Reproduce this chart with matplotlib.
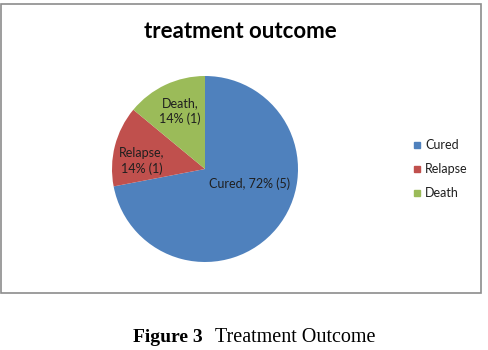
import matplotlib.pyplot as plt
from matplotlib.patches import Rectangle

# treatment outcome counts and their shares
categories = ['Cured', 'Relapse', 'Death']
shares = [72, 14, 14]
counts = [5, 1, 1]
colors = ['#4F81BD', '#C0504D', '#9BBB59']

# where each slice label sits (pie units, radius 1)
label_pos = [(0.48, -0.16), (-0.68, 0.09), (-0.27, 0.62)]

W, H = 488, 350
fig = plt.figure(figsize=(W / 100, H / 100), dpi=100)
fig.patch.set_facecolor('white')

# chart frame
fig.patches.append(Rectangle((1 / W, 1 - 293 / H), 480 / W, 289 / H,
                             transform=fig.transFigure, fill=False,
                             edgecolor='#8c8c8c', linewidth=1.2))

fig.text(240 / W, 1 - 31 / H, 'treatment outcome', ha='center', va='center',
         fontsize=16, fontweight='bold', family='Lato')

cx, cy, r = 205, 169, 93
ax = fig.add_axes([(cx - r) / W, (H - cy - r) / H, 2 * r / W, 2 * r / H])
ax.pie(shares, colors=colors, startangle=90, counterclock=False,
       wedgeprops=dict(linewidth=0))
ax.set_xlim(-1, 1)
ax.set_ylim(-1, 1)
ax.set_aspect('equal')
ax.axis('off')

for name, pct, n, (x, y) in zip(categories, shares, counts, label_pos):
    if name == 'Cured':
        txt = f'{name}, {pct}% ({n})'
    else:
        txt = f'{name},\n{pct}% ({n})'
    ax.text(x, y, txt, ha='center', va='center', fontsize=9,
            family='Lato', color='#1f1f1f', linespacing=1.35)

# legend
for i, (name, c) in enumerate(zip(categories, colors)):
    y = 1 - (145 + 24 * i) / H
    fig.patches.append(Rectangle((414 / W, y - 3 / H), 6 / W, 6 / H,
                                 transform=fig.transFigure, color=c))
    fig.text(425 / W, y, name, ha='left', va='center', fontsize=9,
             family='Lato', color='#1f1f1f')

# caption under the chart
fig.text(133 / W, 1 - 337 / H, 'Figure 3', ha='left', va='center',
         fontsize=14, fontweight='bold', family='Liberation Serif')
fig.text(215 / W, 1 - 337 / H, 'Treatment Outcome', ha='left', va='center',
         fontsize=14.5, family='Liberation Serif')

fig.savefig('out.png', dpi=100)
